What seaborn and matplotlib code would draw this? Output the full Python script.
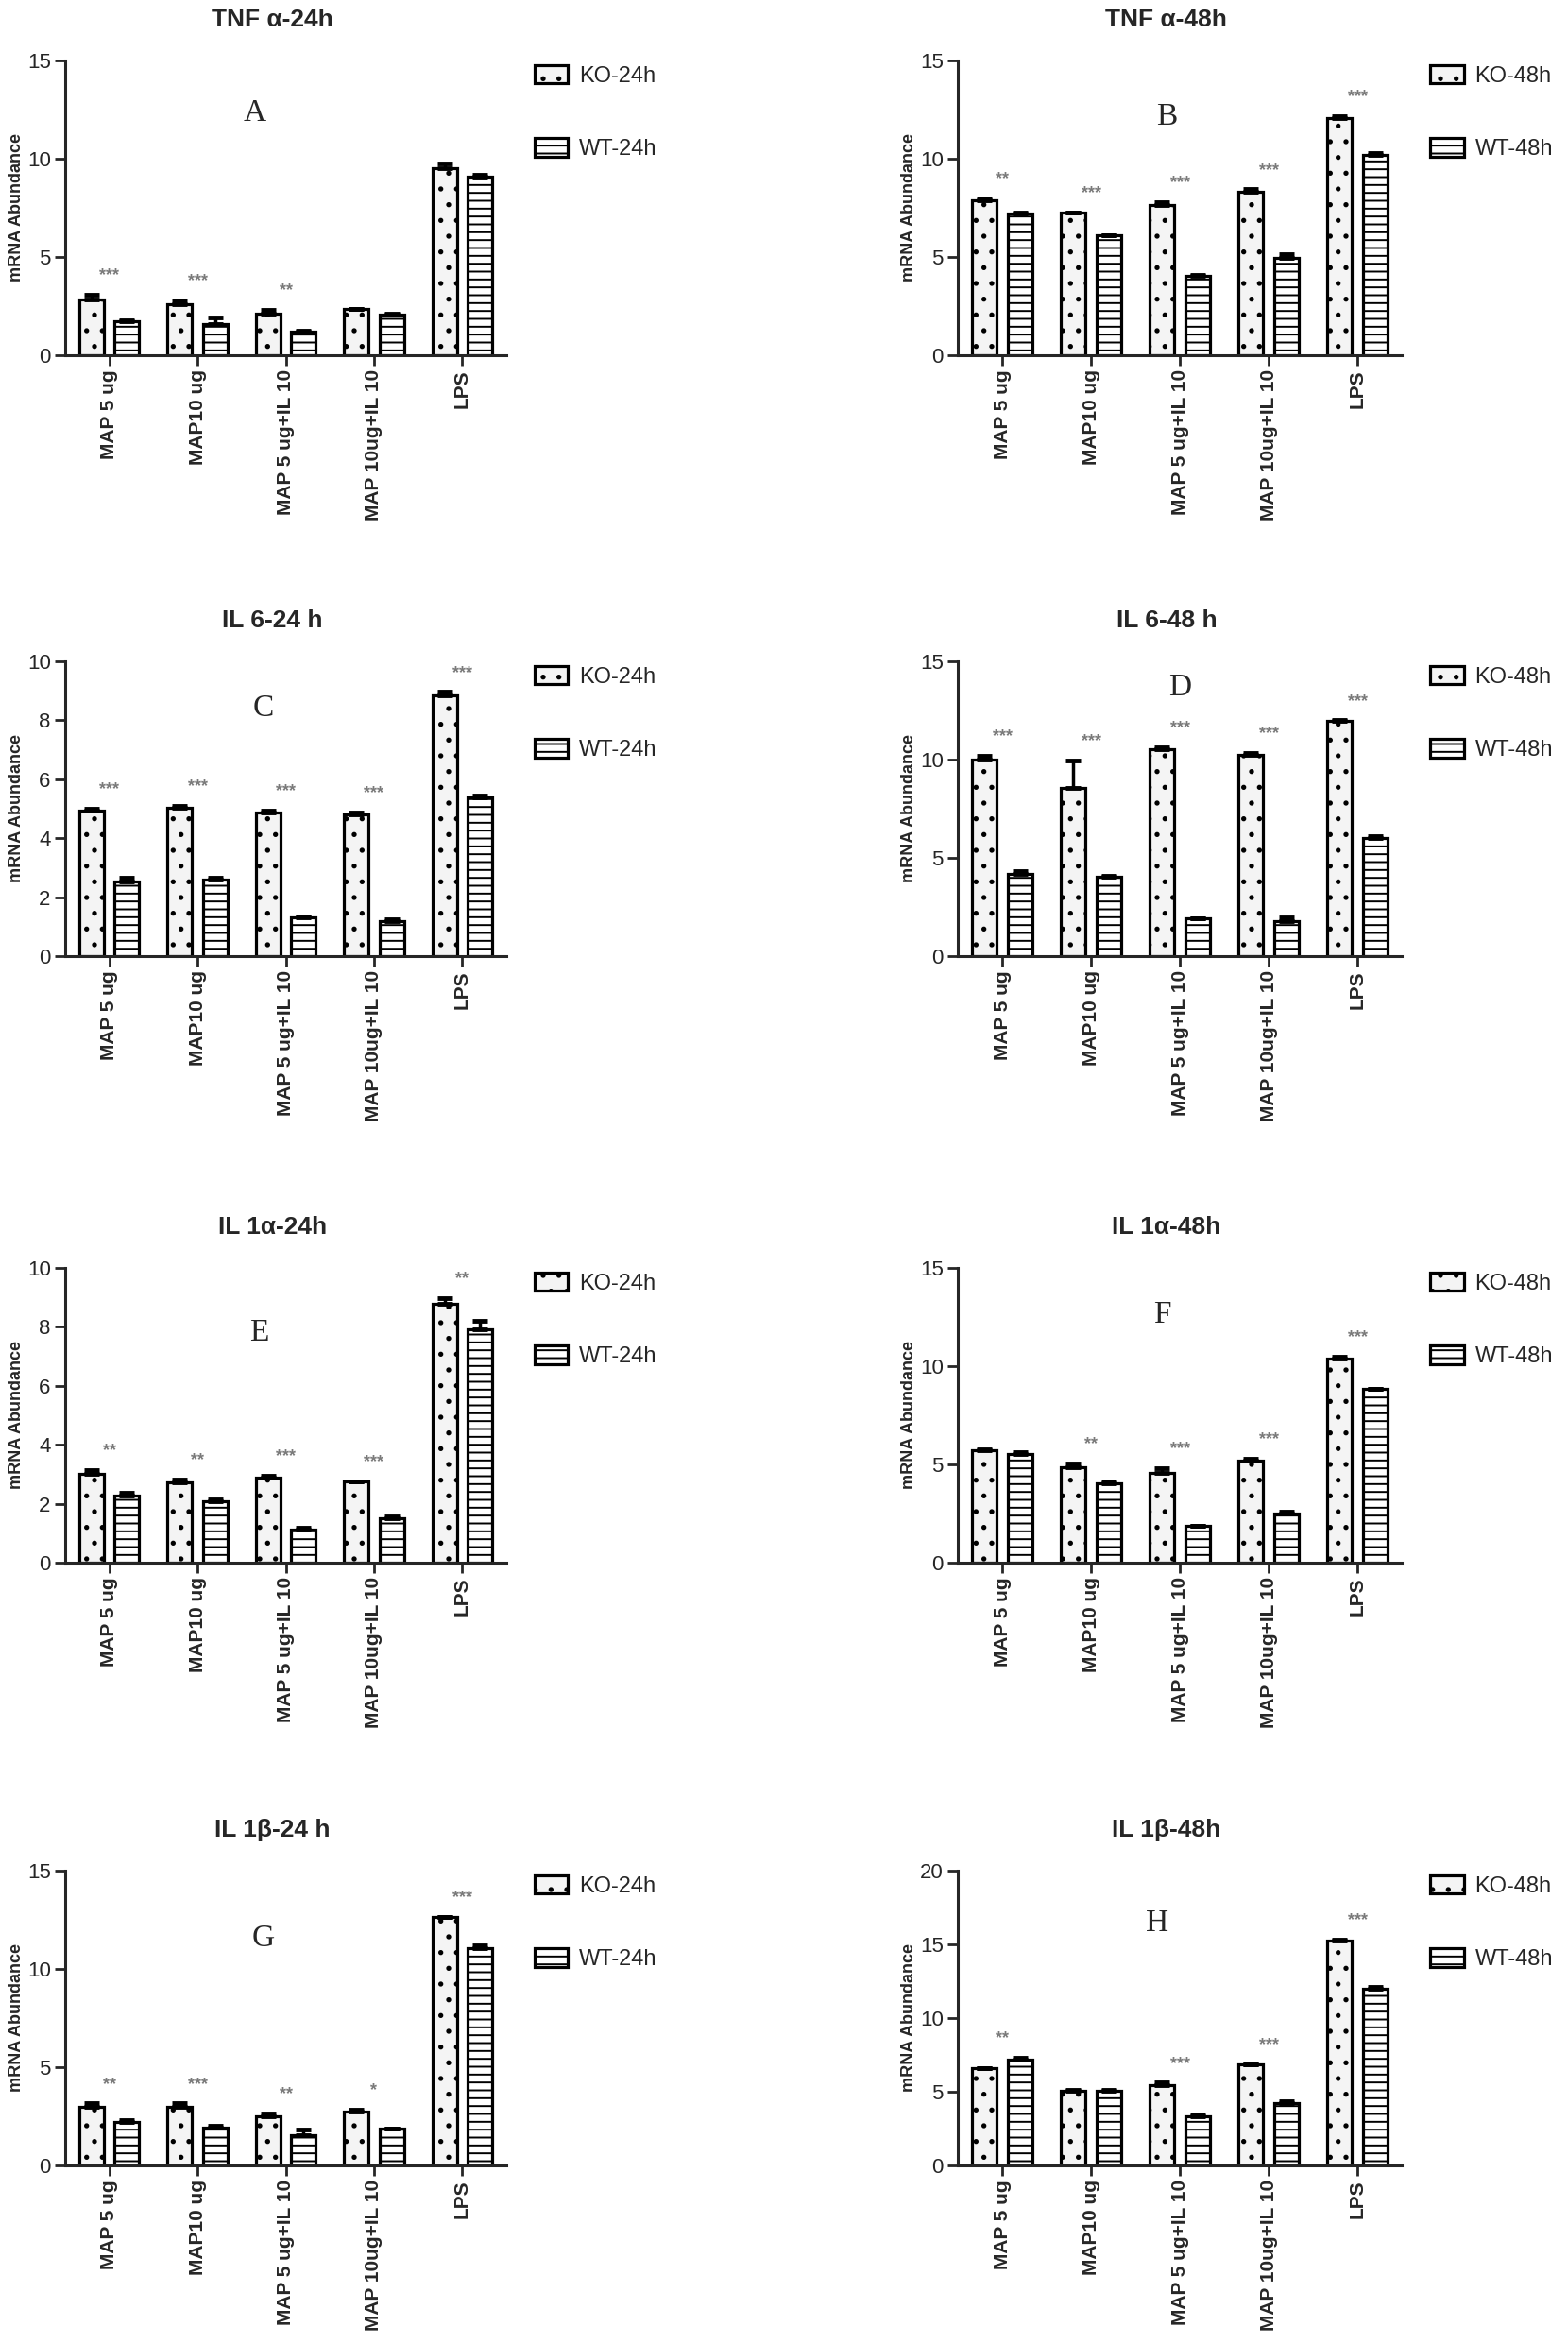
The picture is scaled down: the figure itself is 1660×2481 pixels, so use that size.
import numpy as np
import pandas as pd
import matplotlib
matplotlib.use("Agg")
import matplotlib.pyplot as plt
import seaborn as sns

sns.set_style("ticks")
plt.rcParams["font.family"] = ["Liberation Sans", "DejaVu Sans"]
plt.rcParams["hatch.linewidth"] = 1.4
plt.rcParams["hatch.color"] = "black"

treatments = ["MAP 5 ug", "MAP10 ug", "MAP 5 ug+IL 10", "MAP 10ug+IL 10", "LPS"]

# TNF alpha 24h / 48h
tnf24_ko = [2.82, 2.62, 2.13, 2.37, 9.53]
tnf24_ko_err = [0.25, 0.16, 0.16, 0.0, 0.25]
tnf24_wt = [1.74, 1.57, 1.21, 2.09, 9.10]
tnf24_wt_err = [0.05, 0.33, 0.03, 0.03, 0.10]
tnf24_stars = ["***", "***", "**", "", ""]

tnf48_ko = [7.87, 7.25, 7.64, 8.30, 12.05]
tnf48_ko_err = [0.10, 0.02, 0.17, 0.14, 0.10]
tnf48_wt = [7.23, 6.09, 4.04, 4.94, 10.20]
tnf48_wt_err = [0.03, 0.03, 0.05, 0.20, 0.11]
tnf48_stars = ["**", "***", "***", "***", "***"]

# IL 6
il6_24_ko = [4.93, 5.03, 4.88, 4.80, 8.85]
il6_24_ko_err = [0.07, 0.06, 0.06, 0.07, 0.11]
il6_24_wt = [2.52, 2.61, 1.31, 1.20, 5.37]
il6_24_wt_err = [0.14, 0.04, 0.05, 0.05, 0.08]
il6_24_stars = ["***", "***", "***", "***", "***"]

il6_48_ko = [10.02, 8.58, 10.53, 10.24, 11.97]
il6_48_ko_err = [0.16, 1.39, 0.09, 0.08, 0.03]
il6_48_wt = [4.20, 4.02, 1.91, 1.80, 6.02]
il6_48_wt_err = [0.11, 0.08, 0.0, 0.16, 0.08]
il6_48_stars = ["***", "***", "***", "***", "***"]

# IL 1 alpha
il1a_24_ko = [3.00, 2.73, 2.87, 2.77, 8.77]
il1a_24_ko_err = [0.14, 0.10, 0.09, 0.0, 0.21]
il1a_24_wt = [2.28, 2.07, 1.13, 1.51, 7.93]
il1a_24_wt_err = [0.08, 0.07, 0.06, 0.07, 0.27]
il1a_24_stars = ["**", "**", "***", "***", "**"]

il1a_48_ko = [5.71, 4.86, 4.59, 5.18, 10.40]
il1a_48_ko_err = [0.08, 0.21, 0.21, 0.10, 0.08]
il1a_48_wt = [5.53, 4.03, 1.89, 2.50, 8.84]
il1a_48_wt_err = [0.10, 0.09, 0.0, 0.10, 0.0]
il1a_48_stars = ["", "**", "***", "***", "***"]

# IL 1 beta
il1b_24_ko = [2.98, 2.98, 2.52, 2.76, 12.66]
il1b_24_ko_err = [0.17, 0.17, 0.11, 0.08, 0.0]
il1b_24_wt = [2.23, 1.90, 1.55, 1.87, 11.06]
il1b_24_wt_err = [0.08, 0.13, 0.27, 0.0, 0.12]
il1b_24_stars = ["**", "***", "**", "*", "***"]

il1b_48_ko = [6.62, 5.05, 5.44, 6.84, 15.27]
il1b_48_ko_err = [0.0, 0.11, 0.17, 0.05, 0.05]
il1b_48_wt = [7.20, 5.05, 3.33, 4.26, 12.00]
il1b_48_wt_err = [0.13, 0.05, 0.11, 0.13, 0.10]
il1b_48_stars = ["**", "", "***", "***", "***"]

titles = ["TNF \u03b1-24h", "TNF \u03b1-48h", "IL 6-24 h", "IL 6-48 h",
          "IL 1\u03b1-24h", "IL 1\u03b1-48h", "IL 1\u03b2-24 h", "IL 1\u03b2-48h"]
letters = ["A", "B", "C", "D", "E", "F", "G", "H"]
ymax = [15, 15, 10, 15, 10, 15, 15, 20]
ystep = [5, 5, 2, 5, 2, 5, 5, 5]

panels = [
    (tnf24_ko, tnf24_ko_err, tnf24_wt, tnf24_wt_err, tnf24_stars),
    (tnf48_ko, tnf48_ko_err, tnf48_wt, tnf48_wt_err, tnf48_stars),
    (il6_24_ko, il6_24_ko_err, il6_24_wt, il6_24_wt_err, il6_24_stars),
    (il6_48_ko, il6_48_ko_err, il6_48_wt, il6_48_wt_err, il6_48_stars),
    (il1a_24_ko, il1a_24_ko_err, il1a_24_wt, il1a_24_wt_err, il1a_24_stars),
    (il1a_48_ko, il1a_48_ko_err, il1a_48_wt, il1a_48_wt_err, il1a_48_stars),
    (il1b_24_ko, il1b_24_ko_err, il1b_24_wt, il1b_24_wt_err, il1b_24_stars),
    (il1b_48_ko, il1b_48_ko_err, il1b_48_wt, il1b_48_wt_err, il1b_48_stars),
]

# layout (figure fractions)
W, H = 1660, 2481
col_left = [69 / W, 1014 / W]
col_width = [467 / W, 470 / W]
row_bottom = [1 - 376 / H, 1 - 1012 / H, 1 - 1654 / H, 1 - 2292 / H]
ax_height = 312 / H
letter_pos = [(0.43, 0.82), (0.47, 0.81), (0.45, 0.84), (0.50, 0.91),
              (0.44, 0.78), (0.46, 0.84), (0.45, 0.77), (0.45, 0.82)]

fig = plt.figure(figsize=(16.6, 24.81), dpi=100)

for k, (ko, ko_err, wt, wt_err, stars) in enumerate(panels):
    row, col = divmod(k, 2)
    ax = fig.add_axes([col_left[col], row_bottom[row], col_width[col], ax_height])
    hours = "24h" if col == 0 else "48h"
    ko_lab, wt_lab = f"KO-{hours}", f"WT-{hours}"

    df = pd.DataFrame({
        "treatment": treatments * 2,
        "value": list(ko) + list(wt),
        "group": [ko_lab] * len(ko) + [wt_lab] * len(wt),
    })
    sns.barplot(data=df, x="treatment", y="value", hue="group",
                hue_order=[ko_lab, wt_lab], order=treatments,
                palette=["#f4f4f4", "white"], edgecolor="black",
                linewidth=2.3, gap=0.3, errorbar=None, legend=False, ax=ax)

    bars = list(ax.containers)
    for bar in bars[0]:
        bar.set_hatch(".")
    for bar in bars[1]:
        bar.set_hatch("--")

    for cont, errs in zip(bars, [ko_err, wt_err]):
        xs = [b.get_x() + b.get_width() / 2 for b in cont]
        hs = [b.get_height() for b in cont]
        ax.errorbar(xs, hs, yerr=[np.zeros(len(errs)), errs], fmt="none",
                    ecolor="black", elinewidth=2.5, capsize=6, capthick=3.5,
                    zorder=4)

    for i, s in enumerate(stars):
        if s:
            top = max(ko[i] + ko_err[i], wt[i] + wt_err[i])
            ax.text(i, top + 0.065 * ymax[k], s, ha="center", va="center",
                    color="#7a7a7a", fontsize=13, fontweight="bold")

    ticks = np.arange(0, ymax[k] + 0.01, ystep[k])
    ax.set_xlim(-0.5, 4.5)
    ax.set_ylim(0, ymax[k])
    ax.set_yticks(ticks)
    ax.set_yticklabels([f"{v:g}" for v in ticks], fontsize=16)
    ax.set_xticks(range(len(treatments)))
    ax.set_xticklabels(treatments, rotation=90, fontsize=15, fontweight="bold")
    ax.set_xlabel("")
    ax.set_ylabel("mRNA Abundance", fontsize=13, fontweight="bold", labelpad=2)
    ax.tick_params(axis="both", direction="out", width=2, length=8, pad=3)
    sns.despine(ax=ax)
    for sp in ["left", "bottom"]:
        ax.spines[sp].set_linewidth(2.2)

    ax.set_title(titles[k], fontsize=19, fontweight="bold", pad=26, x=0.47)
    ax.text(letter_pos[k][0], letter_pos[k][1], letters[k], transform=ax.transAxes,
            ha="center", va="center", family="Liberation Serif", fontsize=24)

    ax.legend(handles=bars, labels=[ko_lab, wt_lab], loc="upper left",
              bbox_to_anchor=(1 + 30 / 467, 0.985), borderaxespad=0,
              borderpad=0, frameon=False, labelspacing=2.3, handlelength=1.5,
              handleheight=0.9, handletextpad=0.5,
              prop={"size": 17})

fig.savefig("out.png", dpi=100)
